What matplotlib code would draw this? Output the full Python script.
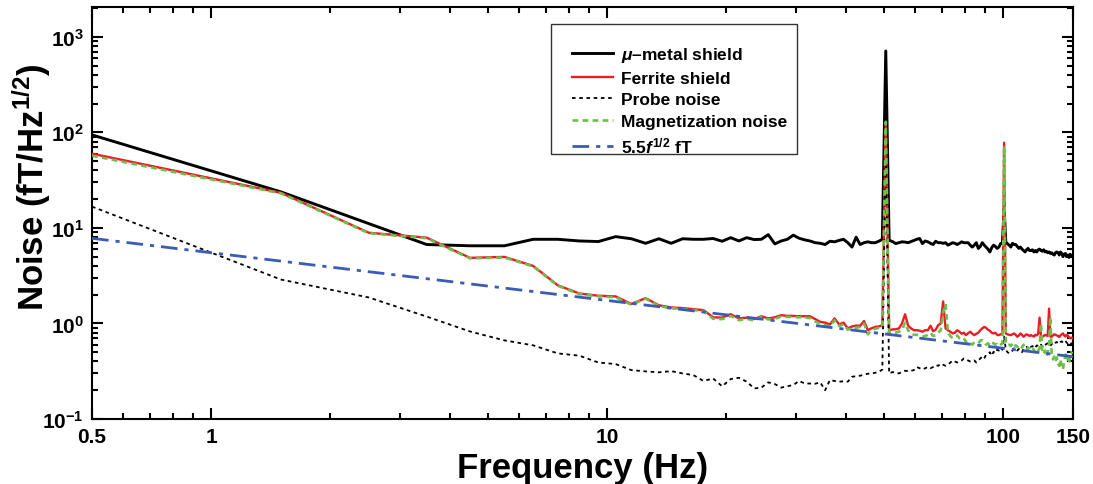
import matplotlib
matplotlib.use("Agg")
import matplotlib.pyplot as plt
from matplotlib.ticker import FixedLocator, FixedFormatter, NullFormatter
from matplotlib.patches import Rectangle
import numpy as np

# ---------------- data ----------------
freq = [i + 0.5 for i in range(150)]  # 0.5, 1.5, ..., 149.5 Hz

mu_metal = [
    94, 23.8, 11.1, 6.7, 6.5, 6.5, 7.6, 7.6, 7.3, 7.2,
    8.1, 7.7, 6.9, 7.7, 6.9, 7.7, 7.6, 7.6, 7.75, 7.25,
    7.9, 7.3, 7.9, 7.55, 7.6, 8.5, 6.8, 7.3, 7.6, 8.4,
    7.8, 7.5, 7.3, 7.0, 6.9, 6.7, 7.25, 7.15, 7.4, 7.6,
    7.0, 6.3, 8.0, 6.7, 7.0, 7.15, 7.0, 7.0, 7.25, 7.6,
    710, 7.4, 7.2, 6.85, 7.0, 7.15, 7.1, 7.0, 7.2, 7.4,
    7.6, 7.75, 6.85, 7.3, 7.15, 6.9, 6.7, 7.25, 7.0, 7.0,
    6.9, 7.0, 6.6, 6.8, 7.0, 6.9, 6.7, 6.9, 7.15, 7.0,
    7.0, 7.0, 6.6, 6.3, 6.6, 7.0, 6.1, 6.4, 7.0, 6.6,
    6.3, 6.0, 5.6, 6.2, 6.6, 6.4, 6.1, 6.3, 6.85, 7.0,
    16, 7.15, 6.8, 6.6, 6.3, 6.9, 6.7, 6.7, 6.4, 6.1,
    6.3, 6.0, 5.8, 5.6, 5.9, 6.1, 5.8, 5.8, 5.9, 5.6,
    5.8, 5.6, 5.9, 6.0, 5.8, 5.7, 5.9, 5.6, 5.7, 5.5,
    5.6, 5.4, 5.5, 5.3, 5.2, 5.5, 5.6, 5.5, 5.2, 5.6,
    5.4, 5.0, 5.3, 5.4, 5.0, 5.2, 4.9, 5.3, 5.1, 5.0,
]

ferrite = [
    59.8, 23.3, 8.9, 7.9, 4.86, 4.97, 4.0, 2.51, 2.06, 1.95,
    1.92, 1.6, 1.84, 1.55, 1.47, 1.45, 1.41, 1.38, 1.16, 1.15,
    1.25, 1.13, 1.15, 1.11, 1.19, 1.13, 1.16, 1.22, 1.20, 1.20,
    1.19, 1.19, 1.19, 1.11, 1.04, 1.02, 0.976, 1.13, 0.976, 1.02,
    0.89, 0.93, 0.95, 0.945, 1.06, 0.85, 0.89, 0.92, 0.93, 0.96,
    125, 0.85, 0.866, 0.87, 0.887, 1.0, 1.25, 0.95, 0.887, 0.85,
    0.85, 0.84, 0.82, 0.85, 0.85, 0.946, 0.83, 0.86, 0.96, 1.0,
    1.7, 0.887, 0.85, 0.82, 0.786, 0.8, 0.85, 0.82, 0.78, 0.80,
    0.755, 0.79, 0.82, 0.78, 0.755, 0.78, 0.80, 0.85, 0.887, 0.92,
    0.90, 0.86, 0.84, 0.80, 0.786, 0.8, 0.76, 0.755, 0.77, 0.79,
    78, 0.786, 0.77, 0.76, 0.755, 0.77, 0.786, 0.76, 0.726, 0.75,
    0.786, 0.76, 0.726, 0.75, 0.77, 0.755, 0.74, 0.755, 0.74, 0.73,
    0.76, 0.75, 0.78, 1.15, 0.74, 0.726, 0.74, 0.76, 0.75, 0.74,
    1.43, 0.73, 0.726, 0.75, 0.77, 0.76, 0.75, 0.74, 0.72, 0.75,
    0.77, 0.786, 0.75, 0.73, 0.76, 0.75, 0.72, 0.70, 0.71, 0.70,
]

probe = [
    16.7, 2.88, 1.87, 1.18, 0.825, 0.665, 0.59, 0.486, 0.46, 0.39,
    0.376, 0.325, 0.315, 0.308, 0.317, 0.30, 0.288, 0.25, 0.266, 0.22,
    0.262, 0.27, 0.246, 0.209, 0.213, 0.242, 0.232, 0.213, 0.22, 0.227,
    0.25, 0.236, 0.235, 0.234, 0.242, 0.20, 0.256, 0.25, 0.246, 0.248,
    0.246, 0.277, 0.28, 0.284, 0.29, 0.298, 0.30, 0.305, 0.31, 0.33,
    60, 0.30, 0.31, 0.305, 0.30, 0.31, 0.32, 0.317, 0.32, 0.325,
    0.35, 0.34, 0.33, 0.34, 0.35, 0.34, 0.35, 0.367, 0.36, 0.38,
    0.37, 0.36, 0.37, 0.39, 0.41, 0.40, 0.39, 0.40, 0.41, 0.43,
    0.42, 0.41, 0.40, 0.40, 0.41, 0.39, 0.41, 0.43, 0.45, 0.43,
    0.47, 0.48, 0.50, 0.46, 0.505, 0.49, 0.53, 0.52, 0.55, 0.53,
    0.73, 0.53, 0.50, 0.486, 0.50, 0.52, 0.53, 0.55, 0.52, 0.54,
    0.53, 0.50, 0.54, 0.56, 0.57, 0.55, 0.53, 0.57, 0.58, 0.55,
    0.56, 0.59, 0.58, 0.57, 0.60, 0.58, 0.56, 0.59, 0.61, 0.62,
    0.60, 0.58, 0.61, 0.62, 0.60, 0.63, 0.64, 0.62, 0.61, 0.64,
    0.65, 0.63, 0.64, 0.66, 0.63, 0.62, 0.64, 0.61, 0.62, 0.60,
]

magnetization = [
    57, 23, 8.8, 7.8, 4.8, 4.9, 3.95, 2.48, 2.03, 1.92,
    1.88, 1.57, 1.82, 1.52, 1.44, 1.42, 1.38, 1.35, 1.12, 1.11,
    1.2, 1.08, 1.12, 1.07, 1.17, 1.10, 1.12, 1.18, 1.17, 1.17,
    1.16, 1.15, 1.14, 1.05, 0.99, 0.96, 0.93, 1.08, 0.94, 0.98,
    0.86, 0.90, 0.90, 0.92, 1.0, 0.77, 0.85, 0.88, 0.90, 0.92,
    129, 0.80, 0.79, 0.80, 0.82, 0.85, 1.02, 0.85, 0.78, 0.76,
    0.76, 0.75, 0.73, 0.74, 0.76, 0.80, 0.74, 0.75, 0.80, 0.85,
    1.3, 1.6, 0.80, 0.74, 0.70, 0.72, 0.75, 0.70, 0.68, 0.70,
    0.64, 0.66, 0.62, 0.60, 0.63, 0.64, 0.62, 0.66, 0.67, 0.64,
    0.60, 0.62, 0.59, 0.63, 0.62, 0.60, 0.61, 0.58, 0.60, 0.62,
    72, 0.62, 0.59, 0.60, 0.58, 0.62, 0.57, 0.59, 0.57, 0.55,
    0.58, 0.56, 0.60, 0.55, 0.53, 0.56, 0.54, 0.52, 0.55, 0.53,
    0.50, 0.54, 0.52, 0.55, 1.0, 0.50, 0.48, 0.52, 0.45, 0.50,
    0.60, 1.17, 0.48, 0.42, 0.45, 0.40, 0.44, 0.38, 0.36, 0.42,
    0.34, 0.33, 0.40, 0.46, 0.50, 0.42, 0.38, 0.45, 0.50, 0.48,
]

fit_freq = [0.5, 1, 10, 100, 150]
fit_noise = [7.78, 5.5, 1.74, 0.55, 0.449]

labels = [r"$\mathit{\mu}$–metal shield", "Ferrite shield", "Probe noise",
          "Magnetization noise", r"5.5$\mathit{f}^{1/2}$ fT"]

x_major = [0.5, 1, 10, 100, 150]
x_major_labels = ["0.5", "1", "10", "100", "150"]
y_major = [0.1, 1, 10, 100, 1000]
y_major_labels = [r"10$^{-1}$", r"10$^{0}$", r"10$^{1}$", r"10$^{2}$", r"10$^{3}$"]

# ---------------- style ----------------
plt.rcParams["font.family"] = ["Liberation Sans", "DejaVu Sans"]
plt.rcParams["font.weight"] = "bold"
plt.rcParams["mathtext.fontset"] = "custom"
plt.rcParams["mathtext.rm"] = "Liberation Sans:bold"
plt.rcParams["mathtext.bf"] = "Liberation Sans:bold"
plt.rcParams["mathtext.it"] = "Liberation Sans:italic:bold"
plt.rcParams["mathtext.default"] = "rm"

fig = plt.figure(figsize=(10.93, 4.85), dpi=100)
ax = fig.add_axes([0.0842, 0.134, 0.8975, 0.8495])

ax.plot(freq, mu_metal, color="black", lw=2.1, label=labels[0], zorder=3)
ax.plot(freq, ferrite, color="#ec1c24", lw=1.7, label=labels[1], zorder=4)
ax.plot(freq, probe, color="black", lw=1.3, linestyle=(0, (2.0, 2.0)), label=labels[2], zorder=5)
ax.plot(freq, magnetization, color="#6cc04a", lw=1.9, linestyle=(0, (2.2, 1.6)), label=labels[3], zorder=6)
ax.plot(fit_freq, fit_noise, color="#3b5bb5", lw=2.0, linestyle=(0, (6, 2.5, 1.5, 2.5)), label=labels[4], zorder=7)

ax.set_xscale("log")
ax.set_yscale("log")
ax.set_xlim(0.5, 150)
ax.set_ylim(0.1, 2050)

ax.xaxis.set_major_locator(FixedLocator(x_major))
ax.xaxis.set_major_formatter(FixedFormatter(x_major_labels))
x_minor = [0.6, 0.7, 0.8, 0.9] + list(range(2, 10)) + list(range(20, 100, 10))
ax.xaxis.set_minor_locator(FixedLocator(x_minor))
ax.xaxis.set_minor_formatter(NullFormatter())

ax.yaxis.set_major_locator(FixedLocator(y_major))
ax.yaxis.set_major_formatter(FixedFormatter(y_major_labels))
y_minor = [m * d for d in [0.1, 1, 10, 100, 1000] for m in range(2, 10)]
ax.yaxis.set_minor_locator(FixedLocator([v for v in y_minor if v <= 2050]))
ax.yaxis.set_minor_formatter(NullFormatter())

ax.tick_params(which="both", direction="in", top=True, right=True, width=1.5)
ax.tick_params(which="major", length=8, labelsize=15, pad=6)
ax.tick_params(which="minor", length=4.5)
for lab in ax.get_xticklabels() + ax.get_yticklabels():
    lab.set_fontweight("bold")
for s in ax.spines.values():
    s.set_linewidth(1.5)

ax.set_xlabel("Frequency (Hz)", fontsize=25, fontweight="bold", labelpad=3)
ax.set_ylabel(r"Noise (fT/Hz$^{1/2}$)", fontsize=25, fontweight="bold")
ax.yaxis.set_label_coords(-0.040, 0.566)

# legend frame drawn separately to match the reference box
ax.add_patch(Rectangle((551 / 1093, 1 - 155 / 485), (797 - 551) / 1093, (155 - 25) / 485,
                       transform=fig.transFigure, facecolor="white", edgecolor="#333333",
                       lw=1.0, zorder=8))
leg = ax.legend(loc="upper left", bbox_to_anchor=(572 / 1093, 1 - 46 / 485),
                bbox_transform=fig.transFigure, borderaxespad=0, frameon=False,
                prop={"weight": "bold", "size": 12.5}, handlelength=2.35,
                labelspacing=0.37, borderpad=0.0, handletextpad=0.45)
leg.set_zorder(9)

fig.savefig("out.png", dpi=100)
